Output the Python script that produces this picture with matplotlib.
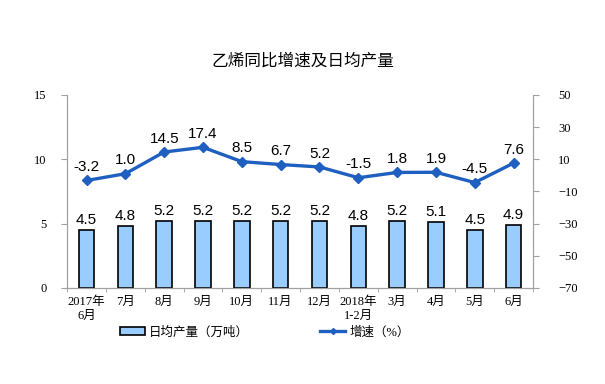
import matplotlib.pyplot as plt
from matplotlib.ticker import FixedLocator

plt.rcParams['font.family'] = ['Liberation Serif', 'Noto Sans CJK SC']

# chart data
months = ['2017年\n6月', '7月', '8月', '9月', '10月', '11月', '12月',
          '2018年\n1-2月', '3月', '4月', '5月', '6月']
daily_output = [4.5, 4.8, 5.2, 5.2, 5.2, 5.2, 5.2, 4.8, 5.2, 5.1, 4.5, 4.9]
growth = [-3.2, 1.0, 14.5, 17.4, 8.5, 6.7, 5.2, -1.5, 1.8, 1.9, -4.5, 7.6]

bar_color = '#99CCFF'
line_color = '#1F5FBF'
axis_gray = '#A0A0A0'

fig = plt.figure(figsize=(6.05, 3.84), dpi=100)
ax = fig.add_axes([0.111, 0.25, 0.77, 0.503])
ax2 = ax.twinx()

x = list(range(len(months)))
bars = ax.bar(x, daily_output, width=0.4, color=bar_color, edgecolor='black', linewidth=1.2,
              label='日均产量（万吨）')
ax.set_ylim(0, 15)
ax.set_xlim(-0.5, len(months) - 0.5)
ax.set_yticks([0, 5, 10, 15])
ax.set_xticks(x)
ax.set_xticklabels(months, fontsize=9)
ax.xaxis.set_minor_locator(FixedLocator([i - 0.5 for i in range(len(months) + 1)]))
ax.tick_params(axis='x', which='major', length=0, pad=6)
ax.tick_params(axis='x', which='minor', length=3, color=axis_gray)
ax.tick_params(axis='y', length=4, color=axis_gray, labelsize=9, pad=11)

for xi, v in zip(x, daily_output):
    ax.text(xi, v + 0.25, f'{v:.1f}', ha='center', va='bottom', fontsize=11,
            family='Liberation Sans')

line, = ax2.plot(x, growth, color=line_color, linewidth=2.4, marker='D', markersize=5,
                 label='增速（%）')
ax2.set_ylim(-70, 50)
ax2.set_yticks(range(-70, 51, 20))
ax2.tick_params(axis='y', length=4, color=axis_gray, labelsize=9, pad=14)

for xi, v in zip(x, growth):
    ax2.text(xi, v + 4, f'{v:.1f}', ha='center', va='bottom', fontsize=11,
             family='Liberation Sans')

for a in (ax, ax2):
    a.spines['top'].set_visible(False)
    for s in ('left', 'right', 'bottom'):
        a.spines[s].set_color(axis_gray)

fig.text(0.5, 0.84, '乙烯同比增速及日均产量', ha='center', va='center', fontsize=12,
         family=['Noto Sans CJK SC'])

leg = fig.legend([bars, line], ['日均产量（万吨）', '增速（%）'], loc='center',
                 bbox_to_anchor=(0.438, 0.135), ncol=2, frameon=False, fontsize=9,
                 columnspacing=5.7, handlelength=2.0, handletextpad=0.3, markerscale=0.6)

fig.savefig('out.png', dpi=100)
